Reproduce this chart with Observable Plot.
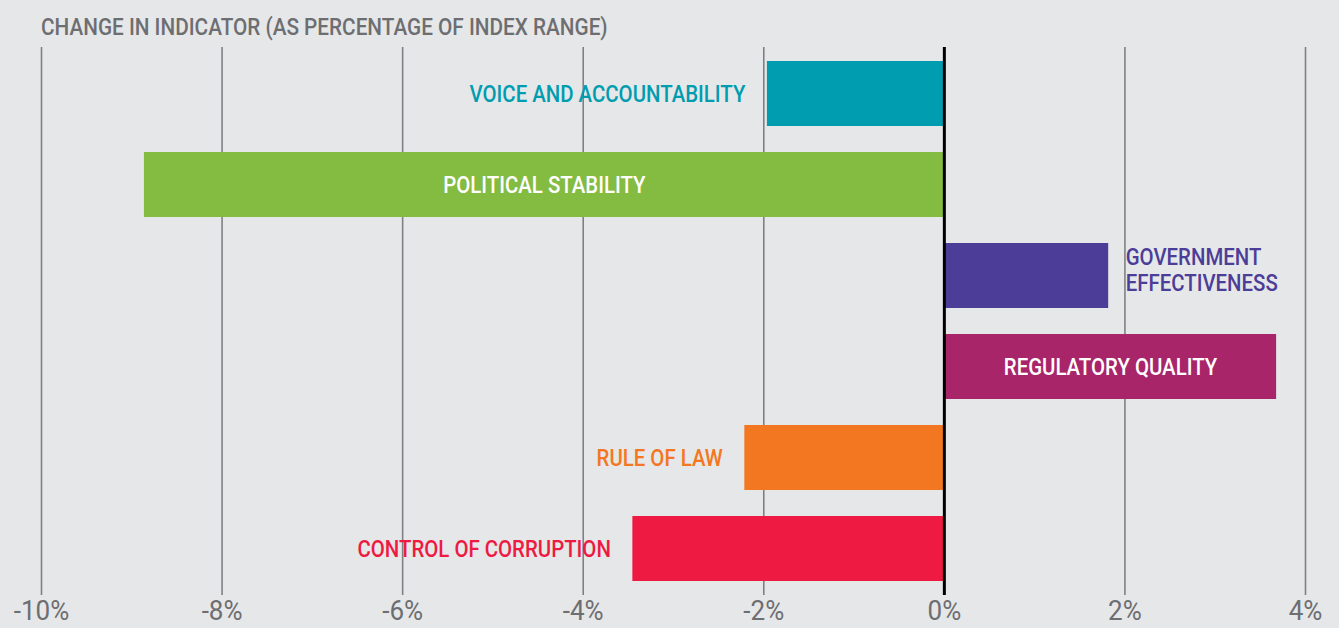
<!DOCTYPE html>
<html>
<head>
<meta charset="utf-8">
<script src="https://cdn.jsdelivr.net/npm/d3@7"></script>
<script src="https://cdn.jsdelivr.net/npm/@observablehq/plot@0.6"></script>
<style>
  html, body { margin: 0; padding: 0; background: #e6e7e8; }
  #wrap { width: 1339px; height: 628px; position: relative; overflow: hidden; background: #e6e7e8; }
  #title { position: absolute; left: 41px; top: 13px; font-family: Roboto, "DejaVu Sans Condensed", sans-serif; font-weight: 500; font-size: 24px; line-height: 28px; color: #6d6e71; white-space: nowrap; transform: scaleX(0.864); transform-origin: 0 0; }
  #chart { position: absolute; left: 0; top: 47px; }
  svg text { font-family: Roboto, "DejaVu Sans Condensed", sans-serif; }
</style>
</head>
<body>
<div id="wrap">
  <div id="title">CHANGE IN INDICATOR (AS PERCENTAGE OF INDEX RANGE)</div>
  <div id="chart"></div>
</div>
<script>
const categories = ["VOICE AND ACCOUNTABILITY", "POLITICAL STABILITY", "GOVERNMENT\nEFFECTIVENESS", "REGULATORY QUALITY", "RULE OF LAW", "CONTROL OF CORRUPTION"];
const values = [-1.96, -8.86, 1.82, 3.68, -2.21, -3.45];
const colors = ["#009cb0", "#84bb41", "#4c3d98", "#a8256a", "#f37721", "#ee1a42"];
const tickValues = [-10, -8, -6, -4, -2, 0, 2, 4];
const insideLabels = ["POLITICAL STABILITY", "REGULATORY QUALITY"];

const data = categories.map((c, i) => ({category: c, value: values[i], color: colors[i]}));
const inside = data.filter(d => insideLabels.includes(d.category));
const outsideNeg = data.filter(d => !insideLabels.includes(d.category) && d.value < 0);
const outsidePos = data.filter(d => !insideLabels.includes(d.category) && d.value >= 0);

const chart = Plot.plot({
  width: 1339,
  height: 581,
  marginTop: 0,
  marginBottom: 33,
  marginLeft: 41,
  marginRight: 34,
  style: {background: "transparent", overflow: "visible"},
  x: {domain: [-10, 4], axis: null},
  y: {domain: categories, paddingInner: 0.289, paddingOuter: 0.1445, axis: null},
  marks: [
    Plot.ruleX(tickValues.filter(t => t !== 0), {stroke: "#7f8083", strokeWidth: 1.6}),
    Plot.barX(data, {y: "category", x1: 0, x2: "value", fill: "color"}),
    Plot.ruleX([0], {stroke: "#000", strokeWidth: 3}),
    Plot.text(inside, {y: "category", x: d => d.value / 2, text: "category", fill: "#fff", fontSize: 24, fontWeight: 500, className: "lbl"}),
    Plot.text(outsideNeg, {y: "category", x: "value", text: "category", fill: "color", fontSize: 24, fontWeight: 500, textAnchor: "end", dx: -22, className: "lbl"}),
    Plot.text(outsidePos, {y: "category", x: "value", text: "category", fill: "color", fontSize: 24, fontWeight: 500, textAnchor: "start", dx: 17, dy: -6, lineHeight: 1.08, className: "lbl"}),
    Plot.text(tickValues, {x: d => d, frameAnchor: "bottom", dy: 16, text: d => d + "%", fill: "#6d6e71", fontSize: 28, lineAnchor: "middle", className: "tick"})
  ]
});
document.getElementById("chart").appendChild(chart);
// condense glyphs horizontally around each text's anchor point
d3.select(chart).selectAll("g.lbl text").each(function() {
  const t = this.getAttribute("transform") || "";
  this.setAttribute("transform", t + " scale(0.85,1)");
});
d3.select(chart).selectAll("g.tick text").each(function() {
  const t = this.getAttribute("transform") || "";
  this.setAttribute("transform", t + " scale(0.93,1)");
});
</script>
</body>
</html>
